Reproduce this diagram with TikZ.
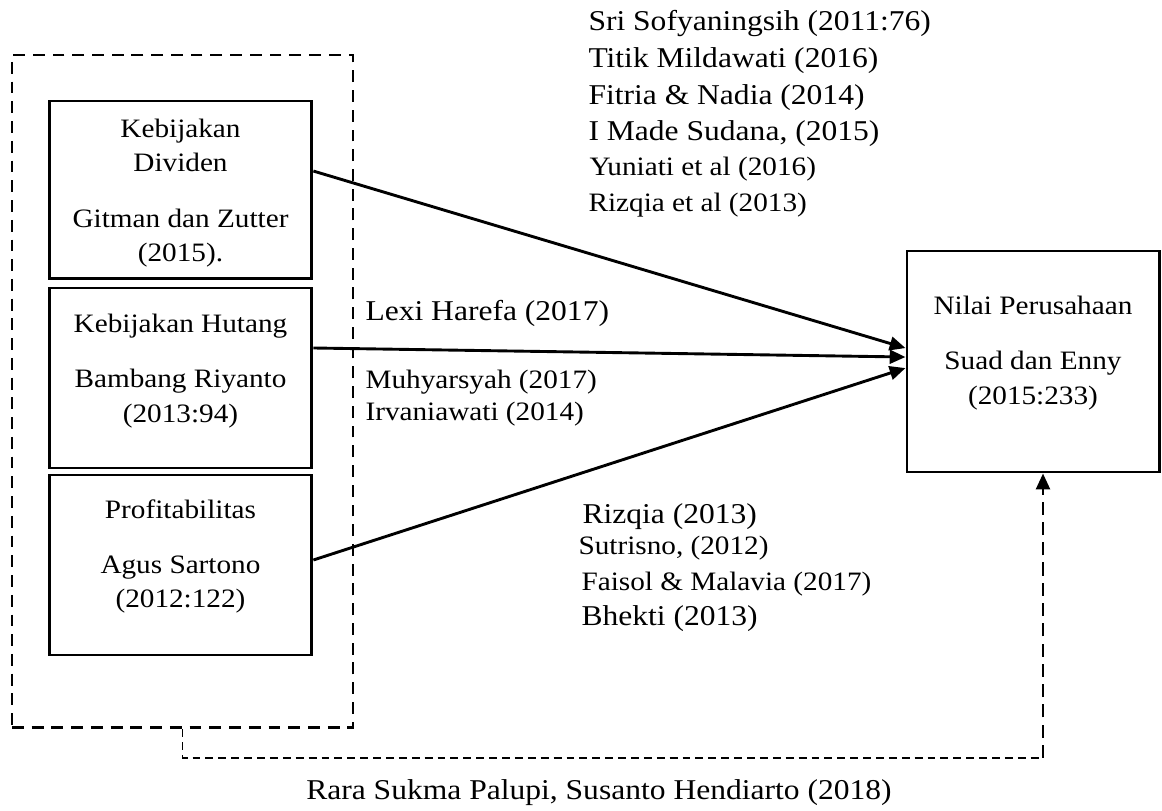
\documentclass[tikz,border=0pt]{standalone}
\usepackage{fontspec}
\setmainfont{Liberation Serif}[FakeStretch=1.1]
\usetikzlibrary{arrows.meta}

\begin{document}
\begin{tikzpicture}[
      x=0.38pt, y=-0.38pt,
      box/.style={draw, line width=1.1pt, minimum width=99.9pt, inner sep=0pt},
      grpbox/.style={draw, line width=1.1pt, dash pattern=on 4.5pt off 3pt,
                     minimum width=129.6pt, minimum height=255.7pt, inner sep=0pt},
      boxtxt/.style={align=center, inner sep=0pt, font=\fontsize{10.1}{13}\selectfont},
      ref/.style={anchor=base west, inner sep=0pt, font=\fontsize{10.9}{13}\selectfont},
      refsm/.style={anchor=base west, inner sep=0pt, font=\fontsize{10.1}{12}\selectfont},
      arr/.style={-{Triangle[length=6pt, width=5.2pt]}, line width=1.1pt},
      fbline/.style={line width=0.6pt, dash pattern=on 3pt off 1.9pt},
      fbarr/.style={-{Triangle[length=6pt, width=5.2pt]}, line width=1.1pt,
                    dash pattern=on 5pt off 2.7pt}
    ]
    \useasboundingbox (0,0) rectangle (1162,811);

    % --- Independent variables (dashed group) ---
    \node[grpbox] (grp) at (182.5,391.5) {};
    \node[box, minimum height=67.6pt] (div) at (180.5,190) {};
    \node[box, minimum height=68.4pt] (hut) at (180.5,378) {};
    \node[box, minimum height=68.4pt] (prof) at (180.5,565) {};
    \node[boxtxt] (divtxt) at (180.5,193) {Kebijakan\\ Dividen\\[8pt] Gitman dan Zutter\\ (2015).};
    \node[boxtxt] (huttxt) at (180.5,371) {Kebijakan Hutang\\[8pt] Bambang Riyanto\\ (2013:94)};
    \node[boxtxt] (proftxt) at (180.5,556.5) {Profitabilitas\\[8pt] Agus Sartono\\ (2012:122)};

    % --- Dependent variable ---
    \node[box, minimum width=95.8pt, minimum height=84pt] (nilai) at (1033,361.5) {};
    \node[boxtxt] (nilaitxt) at (1033,353) {Nilai Perusahaan\\[8pt] Suad dan Enny\\ (2015:233)};

    \draw[arr] ([yshift=7.2pt]div.east) -- ([yshift=5.1pt]nilai.west);
    \draw[arr] ([yshift=11.4pt]hut.east) -- ([yshift=1.7pt]nilai.west);
    \draw[arr] ([yshift=1.9pt]prof.east) -- ([yshift=-2.5pt]nilai.west);

    % simultaneous effect
    \coordinate (fbk) at (1043,758);
    \draw[fbline] (grp.south) |- (fbk);
    \draw[fbarr] (fbk) -- (nilai.south -| fbk);

    % --- references ---
    \node[ref] (r1) at (588,31) {Sri Sofyaningsih (2011:76)};
    \node[ref] (r2) at (588,68) {Titik Mildawati (2016)};
    \node[ref] (r3) at (588,105) {Fitria \& Nadia (2014)};
    \node[ref] (r4) at (588,141) {I Made Sudana, (2015)};
    \node[refsm] (r5) at (589,176) {Yuniati et al (2016)};
    \node[refsm] (r6) at (588,212) {Rizqia et al (2013)};

    \node[ref] (h1) at (365,321) {Lexi Harefa (2017)};
    \node[refsm] (h2) at (365,389) {Muhyarsyah (2017)};
    \node[refsm] (h3) at (365,421) {Irvaniawati (2014)};

    \node[ref] (p1) at (582,524) {Rizqia (2013)};
    \node[refsm] (p2) at (578,555) {Sutrisno, (2012)};
    \node[refsm] (p3) at (581,591) {Faisol \& Malavia (2017)};
    \node[ref] (p4) at (581,626) {Bhekti (2013)};

    \node[ref, anchor=base] (src) at (599,800) {Rara Sukma Palupi, Susanto Hendiarto (2018)};
  \end{tikzpicture}
\end{document}
